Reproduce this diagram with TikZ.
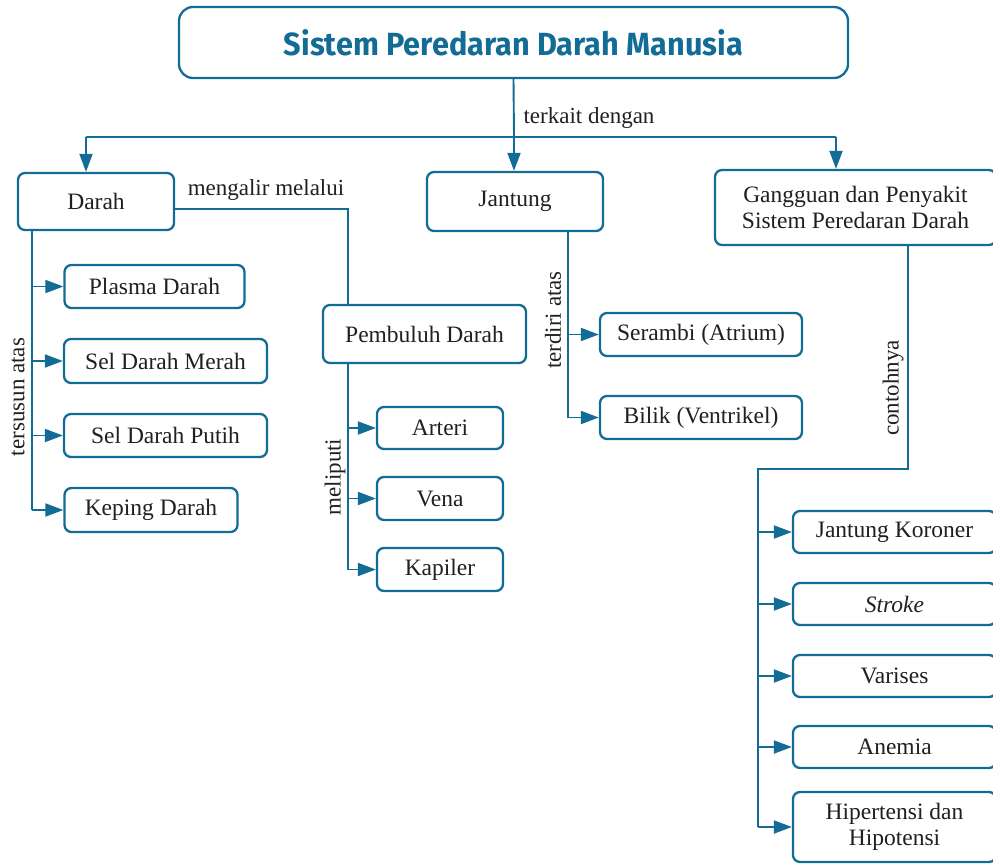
\documentclass[tikz,border=0pt]{standalone}
\usepackage{fontspec}
\setmainfont{Liberation Serif}
\newfontfamily\titlefont{Fira Sans}
\usetikzlibrary{arrows.meta}
\definecolor{tealb}{RGB}{18,108,150}
\definecolor{txt}{RGB}{35,31,32}
\begin{document}
\begin{tikzpicture}[x=1pt,y=-1pt,
  box/.style={draw=tealb,line width=2.3pt,rounded corners=7pt,fill=white,inner sep=0pt,
    align=center,text=txt,font=\fontsize{23.5}{26}\selectfont},
  conn/.style={draw=tealb,line width=1.9pt},
  arr/.style={conn,-{Triangle[length=18pt,width=13pt]}},
  lbl/.style={text=txt,font=\fontsize{23}{26}\selectfont,inner sep=0pt}]
\useasboundingbox (0,0) rectangle (993,865);
\clip (0,0) rectangle (993,865);
% nodes
\node[box,rounded corners=14pt,minimum width=669pt,minimum height=71pt] (title) at (513.5,42.5)
  {\resizebox{459pt}{26pt}{\color{tealb}\titlefont\bfseries Sistem Peredaran Darah Manusia}};
\node[box,minimum width=156pt,minimum height=57pt] (darah) at (96,201.5) {Darah};
\node[box,minimum width=176pt,minimum height=59pt] (jantung) at (515,201.5) {Jantung};
\node[box,minimum width=281pt,minimum height=75pt,font=\fontsize{23.5}{26}\selectfont] (gangguan) at (855.5,207.5) {Gangguan dan Penyakit\\Sistem Peredaran Darah};
\node[box,minimum width=180pt,minimum height=43pt] (plasma) at (154.5,286.5) {Plasma Darah};
\node[box,minimum width=203pt,minimum height=44pt] (merah) at (165.5,361) {Sel Darah Merah};
\node[box,minimum width=203pt,minimum height=43pt] (putih) at (165.5,435.5) {Sel Darah Putih};
\node[box,minimum width=173pt,minimum height=44pt] (keping) at (151,510) {Keping Darah};
\node[box,minimum width=203pt,minimum height=58pt] (pembuluh) at (424.5,334) {Pembuluh Darah};
\node[box,minimum width=126pt,minimum height=42pt] (arteri) at (440,428) {Arteri};
\node[box,minimum width=126pt,minimum height=43pt] (vena) at (440,498.5) {Vena};
\node[box,minimum width=126pt,minimum height=43pt] (kapiler) at (440,569.5) {Kapiler};
\node[box,minimum width=202pt,minimum height=43pt] (serambi) at (701,334.5) {Serambi (Atrium)};
\node[box,minimum width=202pt,minimum height=43pt] (bilik) at (701,417.5) {Bilik (Ventrikel)};
\node[box,minimum width=203pt,minimum height=42pt] (koroner) at (894.5,532) {Jantung Koroner};
\node[box,minimum width=203pt,minimum height=42pt] (stroke) at (894.5,604) {\itshape Stroke};
\node[box,minimum width=203pt,minimum height=42pt] (varises) at (894.5,676) {Varises};
\node[box,minimum width=203pt,minimum height=42pt] (anemia) at (894.5,747) {Anemia};
\node[box,minimum width=203pt,minimum height=70pt,font=\fontsize{23.5}{26}\selectfont] (hiper) at (894.5,827) {Hipertensi dan\\Hipotensi};
% top distribution
\coordinate (hub) at (514,137);
\coordinate (hl) at (86,137);
\coordinate (hr) at (836,137);
\draw[conn] (title.south) -- (hub);
\draw[conn] (hl) -- (hr);
\draw[arr] (hl) -- (hl |- darah.north);
\draw[arr] (hub) -- (hub |- jantung.north);
\draw[arr] (hr) -- (hr |- gangguan.north);
\node[lbl] (lterkait) at (589,118) {terkait dengan};
% darah -> pembuluh
\coordinate (mm) at (348,209);
\draw[conn] (darah.east |- mm) -- (mm) -- (mm |- pembuluh.north);
\node[lbl] (lmengalir) at (266,190) {mengalir melalui};
% darah children
\coordinate (dv) at (32,230);
\draw[conn] (dv |- darah.south) -- (dv |- keping.west);
\foreach \n in {plasma,merah,putih,keping} \draw[arr] (dv |- \n.west) -- (\n.west);
\node[lbl,rotate=90] (ltersusun) at (18,397) {tersusun atas};
% pembuluh children
\coordinate (pv) at (348,363);
\draw[conn] (pv |- pembuluh.south) -- (pv |- kapiler.west);
\foreach \n in {arteri,vena,kapiler} \draw[arr] (pv |- \n.west) -- (\n.west);
\node[lbl,rotate=90] (lmeliputi) at (335,477) {meliputi};
% jantung children
\coordinate (jv) at (568,231);
\draw[conn] (jv |- jantung.south) -- (jv |- bilik.west);
\foreach \n in {serambi,bilik} \draw[arr] (jv |- \n.west) -- (\n.west);
\node[lbl,rotate=90] (lterdiri) at (553,320) {terdiri atas};
% gangguan children
\coordinate (gv) at (908,469);
\coordinate (gl) at (758,469);
\draw[conn] (gv |- gangguan.south) -- (gv) -- (gl) -- (gl |- hiper.west);
\foreach \n in {koroner,stroke,varises,anemia,hiper} \draw[arr] (gl |- \n.west) -- (\n.west);
\node[lbl,rotate=90] (lcontoh) at (893,388) {contohnya};
\end{tikzpicture}
\end{document}
